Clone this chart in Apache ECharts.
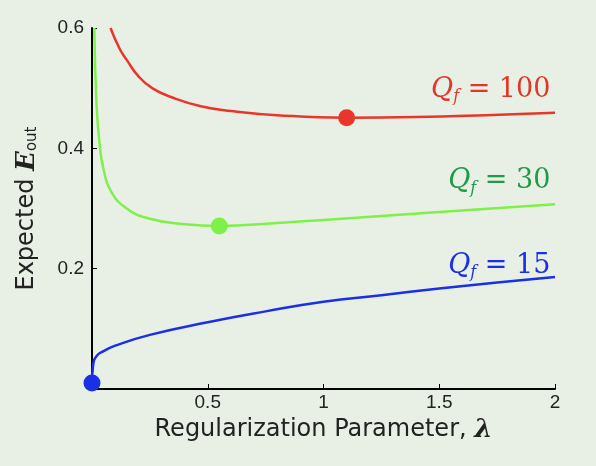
<!DOCTYPE html>
<html><head><meta charset="utf-8">
<script src="https://cdn.jsdelivr.net/npm/echarts@6/dist/echarts.min.js"></script>
<style>html,body{margin:0;background:#e8f0e6}#c{width:596px;height:466px}</style>
</head><body><div id="c"></div>
<script>
// curve samples: [lambda, E_out]
const red = [[0.08,0.6],[0.12,0.565],[0.15,0.547],[0.2,0.52],[0.26,0.50],[0.35,0.484],[0.47,0.47],[0.6,0.462],[0.8,0.455],[1.1,0.451],[1.4,0.452],[1.7,0.455],[2,0.459]];
const green = [[0.01,0.6],[0.02,0.47],[0.035,0.4],[0.05,0.365],[0.08,0.33],[0.15,0.30],[0.25,0.283],[0.4,0.274],[0.55,0.271],[0.8,0.276],[1,0.281],[1.5,0.294],[2,0.307]];
const blue = [[0,0.01],[0.005,0.04],[0.02,0.055],[0.05,0.063],[0.1,0.072],[0.25,0.09],[0.5,0.111],[0.75,0.129],[1,0.145],[1.25,0.156],[1.5,0.167],[1.75,0.177],[2,0.186]];
const minima = [[1.1,0.451,'#e8372a'],[0.55,0.271,'#7ff04a'],[0,0.01,'#1a2fe6']];
const labels = [['100',0.497,'#e0372a'],['30',0.345,'#1f9a48'],['15',0.205,'#1a2fe6']];

const chart = echarts.init(document.getElementById('c'));
const line = (d, c) => ({type:'line', data:d, smooth:true, showSymbol:false, lineStyle:{color:c, width:2.5}, z:2});
chart.setOption({
  backgroundColor:'#e8f0e6',
  grid:{left:92, right:41, top:28, bottom:77},
  xAxis:{type:'value', min:0, max:2, interval:0.5,
    name:'Regularization Parameter, {l|λ}', nameLocation:'middle', nameGap:20,
    nameTextStyle:{fontSize:24, color:'#222', fontFamily:'DejaVu Sans', rich:{l:{fontSize:26, fontWeight:'bold', fontFamily:'DejaVu Serif', fontStyle:'italic'}}},
    axisLine:{lineStyle:{color:'#000', width:2}}, axisTick:{inside:true, length:5, lineStyle:{color:'#000'}},
    axisLabel:{fontSize:19, color:'#222', margin:4, formatter:v=>v===0?'':String(v)}, splitLine:{show:false}},
  yAxis:{type:'value', min:0, max:0.6, interval:0.2,
    name:'Expected {e|E}{s|out}', nameLocation:'middle', nameGap:52,
    nameTextStyle:{fontSize:24, color:'#222', fontFamily:'DejaVu Sans', rich:{e:{fontSize:26, fontWeight:'bold', fontStyle:'italic', fontFamily:'DejaVu Serif'}, s:{fontSize:15, verticalAlign:'bottom', padding:[10,0,0,0]}}},
    axisLine:{lineStyle:{color:'#000', width:2}}, axisTick:{inside:true, length:5, lineStyle:{color:'#000'}},
    axisLabel:{fontSize:19, color:'#222', formatter:v=>v===0?'':v.toFixed(1)}, splitLine:{show:false}},
  series:[
    line(red,'#e8372a'), line(green,'#7ff04a'), line(blue,'#1a2fe6'),
    {type:'scatter', data:minima.map(m=>({value:[m[0],m[1]], itemStyle:{color:m[2], opacity:1}})), symbolSize:17, z:5, clip:false},
    {type:'scatter', symbolSize:0, z:6,
      data:labels.map(l=>({value:[1.98,l[1]], itemStyle:{color:l[2], opacity:1},
        label:{color:l[2], rich:{q:{color:l[2]},f:{color:l[2]}}}})),
      label:{show:true, position:'left', distance:0, fontSize:27, fontFamily:'DejaVu Serif',
        formatter:p=>'{q|Q}{f|f} = '+labels[p.dataIndex][0],
        rich:{q:{fontSize:27, fontStyle:'italic', fontFamily:'DejaVu Serif'}, f:{fontSize:16, fontStyle:'italic', verticalAlign:'bottom', padding:[14,0,0,0]}}}}
  ]
});
</script></body></html>
